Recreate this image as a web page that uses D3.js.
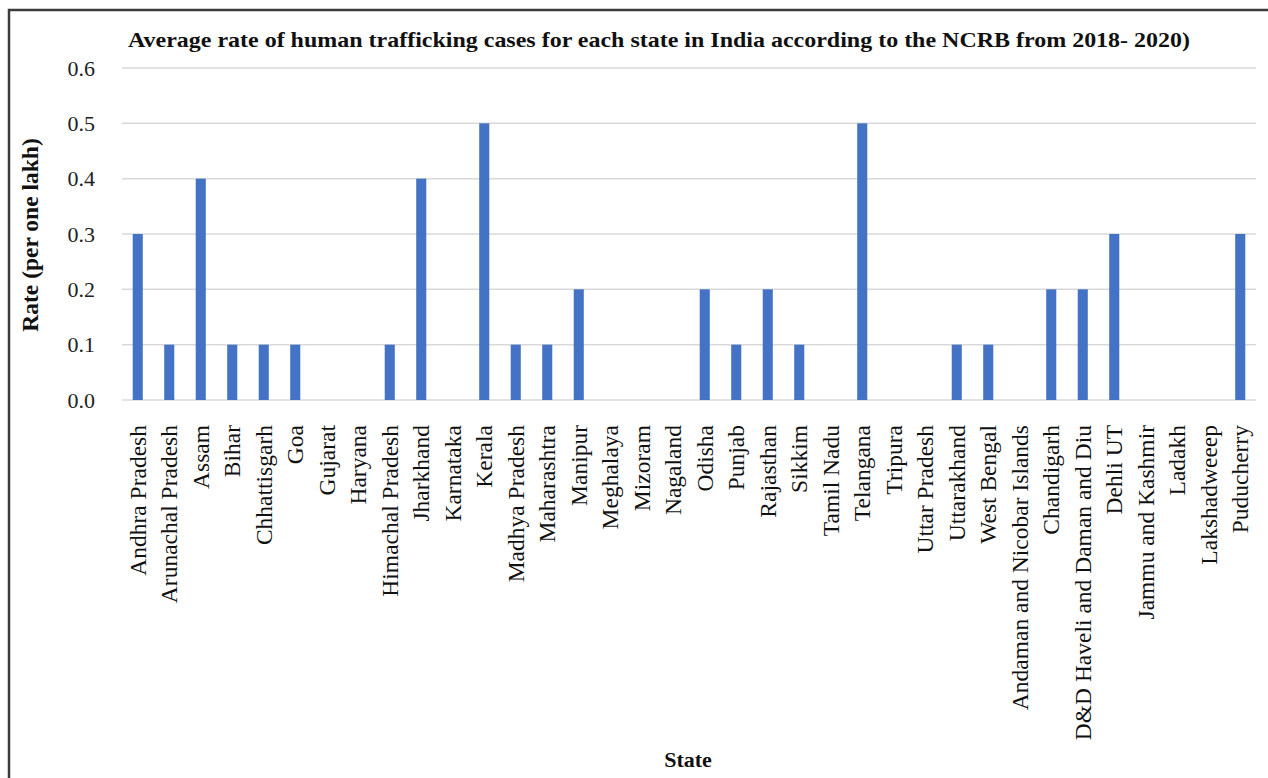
<!DOCTYPE html>
<html>
<head>
<meta charset="utf-8">
<script src="https://cdn.jsdelivr.net/npm/d3@7"></script>
<style>
  body { margin: 0; background: #fff; }
  svg { display: block; }
</style>
</head>
<body>
<svg id="chart" width="1268" height="778"></svg>
<script>
// data
let states = ["Andhra Pradesh", "Arunachal Pradesh", "Assam", "Bihar", "Chhattisgarh", "Goa",
  "Gujarat", "Haryana", "Himachal Pradesh", "Jharkhand", "Karnataka", "Kerala",
  "Madhya Pradesh", "Maharashtra", "Manipur", "Meghalaya", "Mizoram", "Nagaland",
  "Odisha", "Punjab", "Rajasthan", "Sikkim", "Tamil Nadu", "Telangana",
  "Tripura", "Uttar Pradesh", "Uttarakhand", "West Bengal", "Andaman and Nicobar Islands", "Chandigarh",
  "D&D Haveli and Daman and Diu", "Dehli UT", "Jammu and Kashmir", "Ladakh", "Lakshadweeep", "Puducherry"];
let rates = [0.3, 0.1, 0.4, 0.1, 0.1, 0.1,
  0, 0, 0.1, 0.4, 0, 0.5,
  0.1, 0.1, 0.2, 0, 0, 0,
  0.2, 0.1, 0.2, 0.1, 0, 0.5,
  0, 0, 0.1, 0.1, 0, 0.2,
  0.2, 0.3, 0, 0, 0, 0.3];
let yTicks = [0, 0.1, 0.2, 0.3, 0.4, 0.5, 0.6];

let titleText = "Average rate of human trafficking cases for each state in India according to the NCRB from 2018- 2020)";
let yTitle = "Rate (per one lakh)";
let xTitle = "State";

let fontFamily = "'Liberation Serif', 'Times New Roman', serif";
let barColor = "#4472c4";
let gridColor = "#d9d9d9";

let svg = d3.select("#chart");

let plotLeft = 122, plotRight = 1256, plotTop = 68, plotBottom = 400;

let x = d3.scaleBand()
  .domain(states)
  .range([plotLeft, plotRight])
  .paddingInner(0.68)
  .paddingOuter(0.34);

let y = d3.scaleLinear()
  .domain([0, 0.6])
  .range([plotBottom, plotTop]);

// frame (cut off at right and bottom in the reference)
svg.append("path")
  .attr("d", "M9,778 V10 H1268")
  .style("fill", "none")
  .style("stroke", "#3c3c3c")
  .style("stroke-width", "2.5px");

// gridlines
svg.selectAll(".grid")
  .data(yTicks)
  .enter()
  .append("line")
    .attr("class", "grid")
    .attr("x1", plotLeft)
    .attr("x2", plotRight)
    .attr("y1", function(d) { return y(d); })
    .attr("y2", function(d) { return y(d); })
    .style("stroke", gridColor)
    .style("stroke-width", "1.5px");

// y tick labels
svg.selectAll(".ytick")
  .data(yTicks)
  .enter()
  .append("text")
    .attr("class", "ytick")
    .attr("x", 95)
    .attr("y", function(d) { return y(d); })
    .attr("dy", "0.35em")
    .text(function(d) { return d3.format(".1f")(d); })
    .style("text-anchor", "end")
    .style("font-family", fontFamily)
    .style("font-size", "22px")
    .style("fill", "#222");

// bars
svg.selectAll(".bar")
  .data(rates)
  .enter()
  .append("rect")
    .attr("class", "bar")
    .attr("x", function(d, i) { return x(states[i]); })
    .attr("y", function(d) { return y(d); })
    .attr("width", x.bandwidth())
    .attr("height", function(d) { return y(0) - y(d); })
    .style("fill", barColor);

// category labels
svg.selectAll(".xlabel")
  .data(states)
  .enter()
  .append("text")
    .attr("class", "xlabel")
    .attr("transform", function(d) {
      return "translate(" + (x(d) + x.bandwidth() / 2) + ",425) rotate(-90)";
    })
    .attr("dy", "0.35em")
    .text(function(d) { return d; })
    .style("text-anchor", "end")
    .style("font-family", fontFamily)
    .style("font-size", "23.5px")
    .style("fill", "#111");

// title
svg.append("text")
  .attr("x", 659)
  .attr("y", 47)
  .attr("textLength", 1062)
  .attr("lengthAdjust", "spacingAndGlyphs")
  .text(titleText)
  .style("text-anchor", "middle")
  .style("font-family", fontFamily)
  .style("font-weight", "bold")
  .style("font-size", "22px")
  .style("fill", "#111");

// axis titles
svg.append("text")
  .attr("transform", "translate(30,235) rotate(-90)")
  .attr("dy", "0.35em")
  .text(yTitle)
  .style("text-anchor", "middle")
  .style("font-family", fontFamily)
  .style("font-weight", "bold")
  .style("font-size", "23.5px")
  .style("fill", "#111");

svg.append("text")
  .attr("x", 688)
  .attr("y", 767)
  .text(xTitle)
  .style("text-anchor", "middle")
  .style("font-family", fontFamily)
  .style("font-weight", "bold")
  .style("font-size", "22px")
  .style("fill", "#111");
</script>
</body>
</html>
